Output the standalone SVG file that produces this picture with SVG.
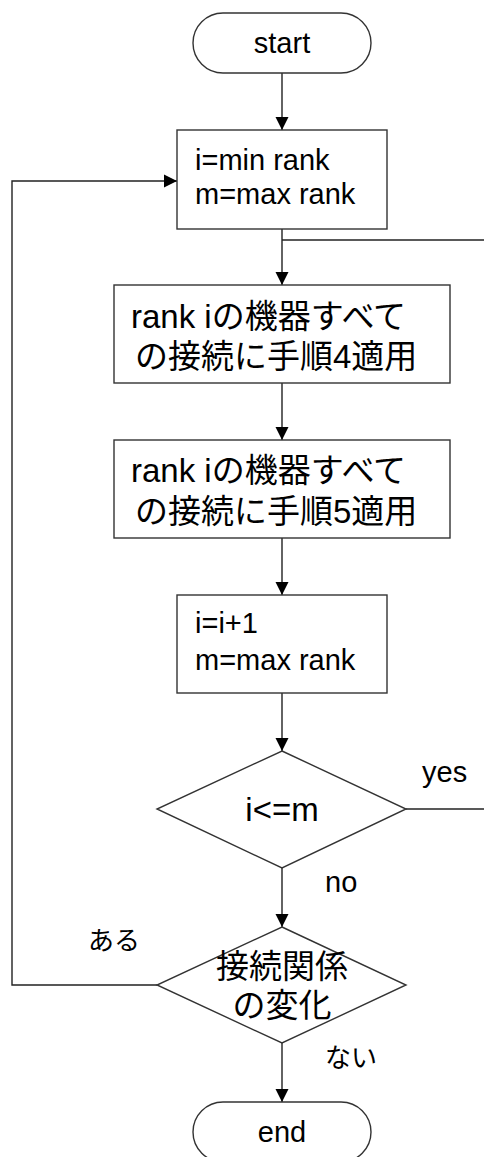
<svg xmlns="http://www.w3.org/2000/svg" width="484" height="1157" viewBox="0 0 484 1157">
<style>
.shape{fill:#fff;stroke:#333;stroke-width:1.4}
.line{fill:none;stroke:#222;stroke-width:1.4}
.t{font-family:"Liberation Sans","Noto Sans CJK JP",sans-serif;fill:#000}
.s{font-size:29px}
.b{font-size:33px}
.l{font-size:26px;font-family:"Noto Sans CJK JP","Liberation Sans",sans-serif}
</style>
<defs>
<marker id="ah" markerUnits="userSpaceOnUse" markerWidth="14" markerHeight="14" viewBox="0 0 14 14" refX="13" refY="7" orient="auto">
<path d="M0,0.5 L13,7 L0,13.5 Z" fill="#000"/>
</marker>
</defs>
<g id="connectors">
<line class="line" x1="282" y1="73" x2="282" y2="130" marker-end="url(#ah)"/>
<line class="line" x1="282" y1="229" x2="282" y2="285" marker-end="url(#ah)"/>
<line class="line" x1="282" y1="240" x2="484" y2="240"/>
<line class="line" x1="282" y1="383" x2="282" y2="440" marker-end="url(#ah)"/>
<line class="line" x1="282" y1="538" x2="282" y2="595" marker-end="url(#ah)"/>
<line class="line" x1="282" y1="693" x2="282" y2="751" marker-end="url(#ah)"/>
<line class="line" x1="406" y1="809" x2="484" y2="809"/>
<line class="line" x1="282" y1="868" x2="282" y2="927" marker-end="url(#ah)"/>
<line class="line" x1="282" y1="1043" x2="282" y2="1102" marker-end="url(#ah)"/>
<polyline class="line" points="157,985 12,985 12,181 177,181" marker-end="url(#ah)"/>
<text class="t s" x="422" y="782">yes</text>
<text class="t s" x="325" y="892">no</text>
<text class="t l" x="88" y="950">ある</text>
<text class="t l" x="325" y="1067">ない</text>
</g>
<g id="start">
<rect class="shape" x="193" y="13" width="178" height="60" rx="30" ry="30"/>
<text class="t s" x="282" y="53" text-anchor="middle">start</text>
</g>
<g id="init">
<rect class="shape" x="177" y="130" width="210" height="99"/>
<text class="t s" x="195" y="170">i=min rank</text>
<text class="t s" x="195" y="204">m=max rank</text>
</g>
<g id="step4">
<rect class="shape" x="114" y="285" width="336" height="98"/>
<text class="t b" x="131" y="328">rank iの機器すべて</text>
<text class="t b" x="135" y="368">の接続に手順4適用</text>
</g>
<g id="step5">
<rect class="shape" x="114" y="440" width="336" height="98"/>
<text class="t b" x="131" y="482">rank iの機器すべて</text>
<text class="t b" x="135" y="523">の接続に手順5適用</text>
</g>
<g id="incr">
<rect class="shape" x="177" y="595" width="210" height="98"/>
<text class="t s" x="195" y="633">i=i+1</text>
<text class="t s" x="195" y="670">m=max rank</text>
</g>
<g id="cond1">
<polygon class="shape" points="282,751 406,809 282,868 157,809"/>
<text class="t b" x="282" y="821" text-anchor="middle">i&lt;=m</text>
</g>
<g id="cond2">
<polygon class="shape" points="282,927 406,985 282,1043 157,985"/>
<text class="t b" x="282" y="978" text-anchor="middle">接続関係</text>
<text class="t b" x="282" y="1017" text-anchor="middle">の変化</text>
</g>
<g id="end">
<rect class="shape" x="193" y="1102" width="178" height="60" rx="30" ry="30"/>
<text class="t s" x="282" y="1142" text-anchor="middle">end</text>
</g>
</svg>
